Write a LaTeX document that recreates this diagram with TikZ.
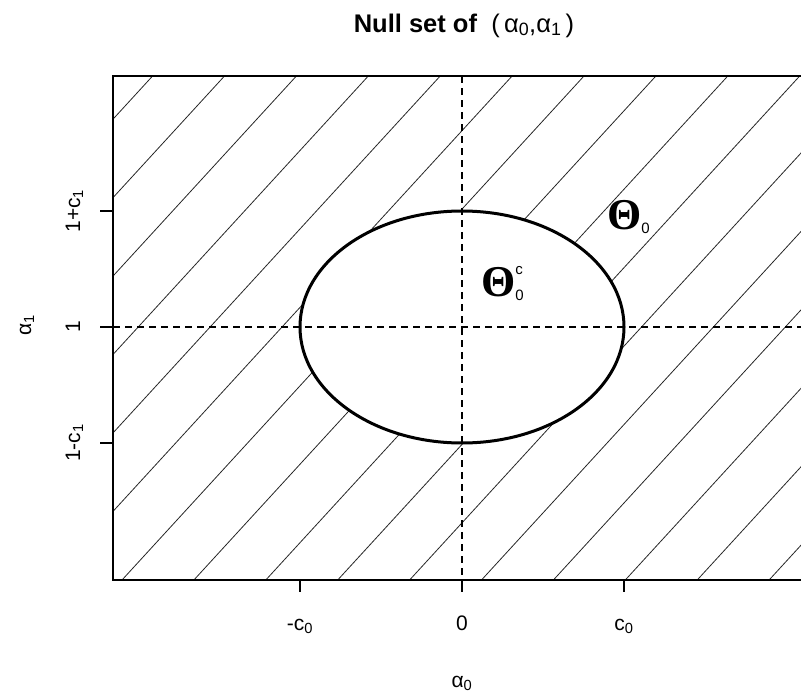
\documentclass[tikz,border=0pt]{standalone}
\usepackage{fontspec}
\setmainfont{Liberation Sans}
\newfontfamily\thetafont{Liberation Serif}
\usetikzlibrary{positioning,shapes.geometric}
\newcommand{\lowidx}[1]{\textsubscript{#1}}
\newcommand{\setidx}[1]{\raisebox{-4pt}{\normalfont\fontsize{15}{15}\selectfont #1}}
\newcommand{\setpair}[2]{\makebox[0pt][l]{\raisebox{22pt}{\normalfont\fontsize{15}{15}\selectfont #1}}\setidx{#2}}

\begin{document}
\begin{tikzpicture}[x=1pt,y=-1pt,
  hatch/.style={line width=0.8pt,black!85},
  frame/.style={line width=1.5pt},
  guide/.style={line width=1.2pt,dash pattern=on 7pt off 5pt},
  ticklbl/.style={font=\fontsize{21}{24}\selectfont,anchor=base,inner sep=0pt},
  setlbl/.style={font=\thetafont\bfseries\fontsize{44}{46}\selectfont,anchor=base west,inner sep=0pt}]
  \useasboundingbox (0,0) rectangle (801,696);
  \clip (0,0) rectangle (801,696);
  \coordinate (ll) at (113,580);
  \coordinate (ur) at (812,76);
  % hatched parameter region
  \begin{scope}
    \clip (ll) rectangle (ur);
    \foreach \k in {-6,...,9}
      \draw[hatch] ({122+71.9*\k},580) -- ++(462,-504);
  \end{scope}
  \node[ellipse,draw,line width=3pt,fill=white,inner sep=0pt,
    minimum width=324pt,minimum height=232pt] (nullset) at (462,327) {};
  \draw[guide] (nullset.center |- ur) -- (nullset.center |- ll);
  \draw[guide] (nullset.center -| ll) -- (nullset.center -| ur);
  \draw[frame] (ll) rectangle (ur);
  % axes
  \foreach \x/\lbl [count=\i] in {300/{-c\lowidx{0}},462/0,624/{c\lowidx{0}}} {
    \draw[frame] (\x,580) -- (\x,592);
    \node[ticklbl] (xtick\i) at (\x,630) {\lbl};
  }
  \foreach \y/\lbl [count=\i] in {211/{1+c\lowidx{1}},327/1,443/{1-c\lowidx{1}}} {
    \draw[frame] (100,\y) -- (113,\y);
    \node[ticklbl,rotate=90] (ytick\i) at (80,\y) {\lbl};
  }
  \node[ticklbl] (xlab) at (462,687) {α\lowidx{0}};
  \node[ticklbl,rotate=90] (ylab) at (31,325) {α\lowidx{1}};
  \node[anchor=base,inner sep=0pt,font=\fontsize{25.5}{28}\selectfont] (title) at (464,32)
    {\textbf{Null set of}\ \ (\,α\lowidx{0},α\lowidx{1}\,)};
  % set labels
  \node[setlbl] (theta) at (607,229) {Θ\setidx{0}};
  \node[setlbl] (thetac) at (481,296) {Θ\setpair{c}{0}};
\end{tikzpicture}
\end{document}
